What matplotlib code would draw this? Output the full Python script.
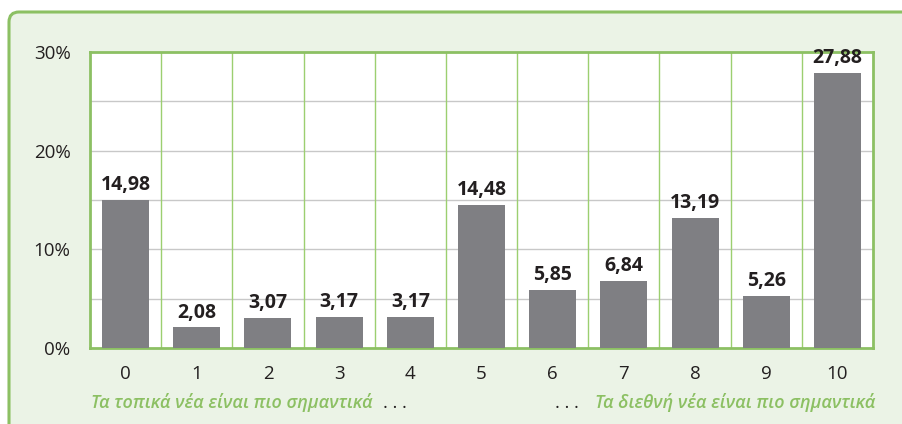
import numpy as np
import matplotlib.pyplot as plt
from matplotlib.patches import FancyBboxPatch

categories = ['0', '1', '2', '3', '4', '5', '6', '7', '8', '9', '10']
values = [14.98, 2.08, 3.07, 3.17, 3.17, 14.48, 5.85, 6.84, 13.19, 5.26, 27.88]
y_ticks = [0, 10, 20, 30]
left_note = 'Τα τοπικά νέα είναι πιο σημαντικά'
right_note = 'Τα διεθνή νέα είναι πιο σημαντικά'

green = '#8cc063'
panel = '#ebf3e6'
bar_col = '#7f7f83'
txt = '#231f20'

plt.rcParams['font.family'] = ['Open Sans', 'DejaVu Sans']

W, H = 902, 424
fig = plt.figure(figsize=(W / 100, H / 100), dpi=100)
fig.patch.set_facecolor('white')

# panel behind the chart, only top-left corner visible (units: inches)
box = FancyBboxPatch((0.09, -0.5), 10, (H - 12) / 100 + 0.5,
                     boxstyle='round,pad=0,rounding_size=0.1',
                     transform=fig.dpi_scale_trans, facecolor=panel,
                     edgecolor=green, linewidth=2.2, zorder=-5)
fig.patches.append(box)

ax = fig.add_axes([90 / W, 1 - 348 / H, (873 - 90) / W, (348 - 52) / H])
ax.set_facecolor('white')
ax.set_zorder(2)

x = np.arange(len(categories))
ax.bar(x, values, width=0.66, color=bar_col, zorder=3)
for xi, v in zip(x, values):
    ax.text(xi, v + 0.5, f'{v:.2f}'.replace('.', ','), ha='center', va='bottom',
            fontsize=14, fontweight='bold', color=txt, zorder=4)

ax.set_xlim(-0.5, len(categories) - 0.5)
ax.set_ylim(0, 30)
ax.set_yticks(y_ticks)
ax.set_yticklabels([f'{t}%' for t in y_ticks])
ax.set_xticks(x)
ax.set_xticklabels(categories)
ax.tick_params(length=0, labelsize=13.5, colors=txt)
ax.tick_params(axis='y', pad=14)
ax.tick_params(axis='x', pad=12)

for t in np.arange(5, 30, 5):
    ax.axhline(t, color='#c8c8c8', linewidth=1, zorder=1)
for b in np.arange(0.5, len(categories) - 1, 1):
    ax.axvline(b, color='#9ccf70', linewidth=1, zorder=1)
for s in ax.spines.values():
    s.set_color(green)
    s.set_linewidth(2)

fig.text(91 / W, 1 - 403 / H, left_note, color=green, fontsize=13,
         style='italic', fontweight='semibold', va='center', ha='left')
fig.text(383 / W, 1 - 403 / H, '. . .', color=txt, fontsize=13, va='center', ha='left')
fig.text(875 / W, 1 - 403 / H, right_note, color=green, fontsize=13,
         style='italic', fontweight='semibold', va='center', ha='right')
fig.text(555 / W, 1 - 403 / H, '. . .', color=txt, fontsize=13, va='center', ha='left')

fig.savefig('out.png', dpi=100, facecolor=fig.get_facecolor())
